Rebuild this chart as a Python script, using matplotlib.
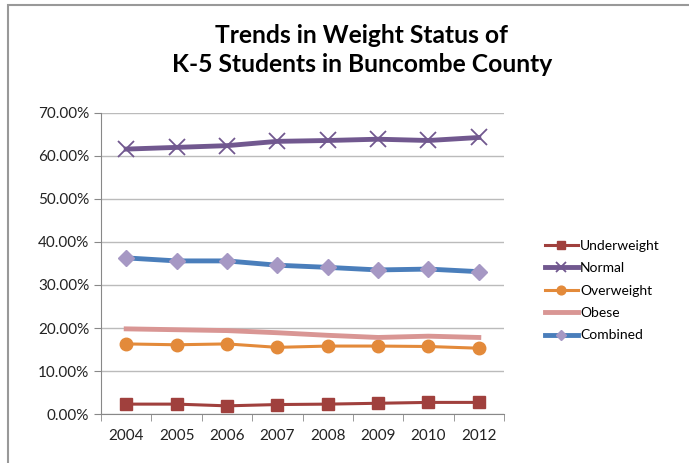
import matplotlib
matplotlib.use("Agg")
import matplotlib.pyplot as plt
from matplotlib.patches import Rectangle
from matplotlib.ticker import FuncFormatter

plt.rcParams['font.family'] = ['Lato', 'DejaVu Sans']

years = ['2004', '2005', '2006', '2007', '2008', '2009', '2010', '2012']
underweight = [2.3, 2.3, 1.9, 2.2, 2.3, 2.5, 2.7, 2.7]
normal = [61.6, 62.0, 62.4, 63.4, 63.6, 63.9, 63.6, 64.3]
overweight = [16.3, 16.1, 16.3, 15.5, 15.8, 15.8, 15.7, 15.3]
obese = [19.8, 19.6, 19.4, 18.9, 18.3, 17.8, 18.1, 17.8]
combined = [36.3, 35.6, 35.6, 34.6, 34.1, 33.5, 33.7, 33.1]

fig = plt.figure(figsize=(6.89, 4.63), dpi=100)
ax = fig.add_axes([0.1466, 0.1058, 0.5849, 0.6502])

x = range(len(years))
ax.plot(x, underweight, 's-', color='#A0403D', lw=2.2, ms=8, label='Underweight')
ax.plot(x, normal, 'x-', color='#71588F', lw=3.5, ms=11, mew=1.3, label='Normal')
ax.plot(x, overweight, 'o-', color='#E38A3A', lw=2.2, ms=9, label='Overweight')
ax.plot(x, obese, '-', color='#D99694', lw=3.5, label='Obese')
ax.plot(x, combined, 'D-', color='#4A7EBB', lw=3.5, ms=8, mfc='#A698C4', mec='#A698C4',
        label='Combined')

ax.set_xlim(-0.5, len(years) - 0.5)
ax.set_ylim(0, 70)
ax.set_yticks(range(0, 71, 10))
ax.yaxis.set_major_formatter(FuncFormatter(lambda v, p: f"{v:.2f}%"))
ax.set_xticks(x)
ax.set_xticklabels(years)
ax.set_xticks([i - 0.5 for i in range(len(years) + 1)], minor=True)
ax.tick_params(axis='x', which='major', length=0, labelsize=11, colors='#222222', pad=11)
ax.tick_params(axis='x', which='minor', length=5, color='#888888')
ax.tick_params(axis='y', length=5, color='#888888', labelsize=11, labelcolor='#222222')
ax.grid(True, axis='y', color='#BBBBBB', lw=1)
ax.set_axisbelow(True)
for s in ['top', 'right']:
    ax.spines[s].set_visible(False)
ax.spines['left'].set_color('#888888')
ax.spines['bottom'].set_color('#888888')

leg = ax.legend(loc='center left', bbox_to_anchor=(1.07, 0.41), frameon=False,
                fontsize=10, handlelength=2.4, handletextpad=0.15, labelspacing=0.75,
                markerscale=0.7)

fig.text(0.525, 0.892, 'Trends in Weight Status of\nK-5 Students in Buncombe County',
         ha='center', va='center', fontsize=17.7, fontweight='bold', linespacing=1.3)

fig.patches.append(Rectangle((8 / 689, -0.1), 1.1, 1.1 - 5 / 463, transform=fig.transFigure,
                             fill=False, ec='#999999', lw=1.5))

fig.savefig('out.png', dpi=100)
